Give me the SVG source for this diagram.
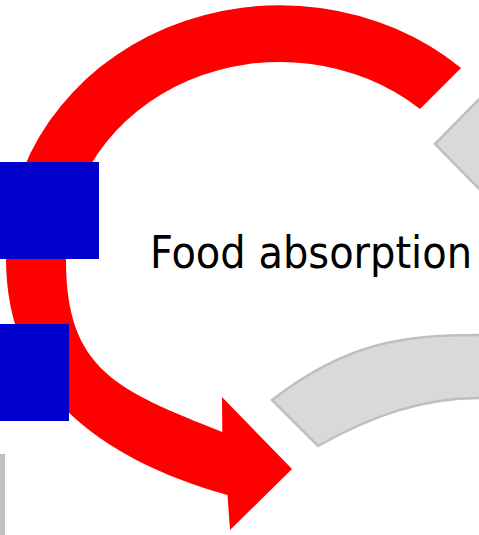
<svg xmlns="http://www.w3.org/2000/svg" width="479" height="535" viewBox="0 0 479 535">
  <style>
    .red-arrow { fill: #FF0000; }
    .gray-arrow { fill: #D9D9D9; stroke: #BFBFBF; stroke-width: 2.5; stroke-linejoin: miter; }
    .marker-box { fill: #0000CC; }
    .label { font-family: "DejaVu Sans Condensed", "DejaVu Sans", sans-serif; font-size: 44px; fill: #000000; }
  </style>

  <!-- cycle arrows -->
  <g id="connectors">
    <!-- upper-right neighbour arrowhead -->
    <polygon id="arrow-top-right" class="gray-arrow" points="435,144 492,86 492,202"/>
    <!-- lower-right neighbour arc -->
    <path id="arrow-bottom-right" class="gray-arrow"
          d="M272,400 C347,342 404,335 479,335 L492,335 L492,398 L479,398 C424,398 373,415 318,446 Z"/>
    <!-- main circular arrow -->
    <path id="arrow-main" class="red-arrow"
          d="M461,68
             A274,252 0 0 0 6,258
             C6,388 97,458 227.5,495
             L230,530 L292,469 L222,397 L222.3,432
             C117,390 66,370 66,260
             A214,193 0 0 1 420,109 Z"/>
    <!-- edge of a neighbouring shape -->
    <rect id="edge-bottom-left" x="0" y="454" width="5" height="81" fill="#C0C0C0"/>
  </g>

  <g id="box-upper">
    <rect class="marker-box" x="0" y="162" width="99" height="97"/>
  </g>
  <g id="box-lower">
    <rect class="marker-box" x="0" y="324" width="69" height="97"/>
  </g>

  <g id="food-absorption">
    <text class="label" x="150" y="268" textLength="322" lengthAdjust="spacingAndGlyphs">Food absorption</text>
  </g>
</svg>
